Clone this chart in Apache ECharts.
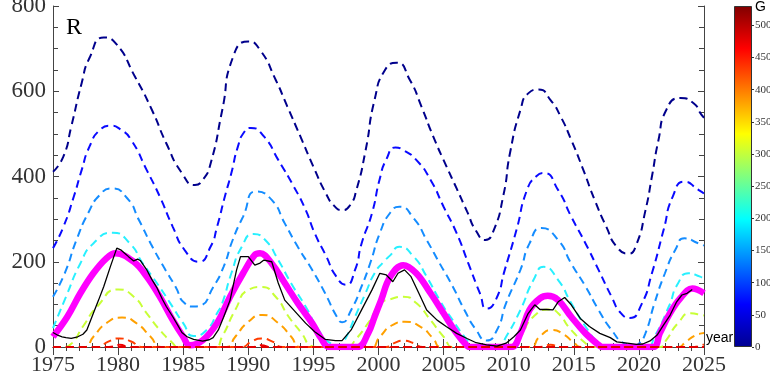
<!DOCTYPE html>
<html>
<head>
<meta charset="utf-8">
<script src="https://cdn.jsdelivr.net/npm/echarts@6/dist/echarts.min.js"></script>
<style>
  html, body { margin: 0; padding: 0; background: #fff; }
  #chart { width: 770px; height: 385px; }
</style>
</head>
<body>
<div id="chart"></div>
<script>
// 年份刻度
const yearTicks = [1975, 1980, 1985, 1990, 1995, 2000, 2005, 2010, 2015, 2020, 2025]
const rTicks = [0, 200, 400, 600, 800]
const gTicks = [0, 50, 100, 150, 200, 250, 300, 350, 400, 450, 500]
const gMax = 530

// 虚线族 (颜色对应 G)
const curveG000 = [[1975, 411], [1975.8, 447], [1976.4, 517], [1977.2, 619], [1977.8, 678], [1978.9, 726], [1979.8, 713], [1981.3, 634], [1982.6, 556], [1983.7, 478], [1984.9, 408], [1985.9, 380], [1986.5, 392], [1987.1, 430], [1988.0, 556], [1988.8, 678], [1990.0, 717], [1990.9, 697], [1992.1, 627], [1993.0, 564], [1994.0, 494], [1995.0, 423], [1996.0, 358], [1996.6, 331], [1997.2, 321], [1997.8, 332], [1998.3, 368], [1999.0, 460], [1999.7, 580], [2000.5, 650], [2001.4, 667], [2002.4, 627], [2003.3, 564], [2004.2, 494], [2005.2, 425], [2006.0, 372], [2006.8, 318], [2007.5, 272], [2008.2, 251], [2008.8, 270], [2009.6, 357], [2010.1, 455], [2010.9, 556], [2011.5, 595], [2012.3, 604], [2013.2, 580], [2014.0, 540], [2014.8, 486], [2015.7, 418], [2016.6, 345], [2017.5, 282], [2018.3, 235], [2019.2, 219], [2019.8, 240], [2020.5, 320], [2021.0, 400], [2021.5, 485], [2022.1, 556], [2023.2, 584], [2024.2, 572], [2024.8, 545], [2025, 538]]
const curveG070 = [[1975, 232], [1975.8, 282], [1976.6, 353], [1977.2, 415], [1977.8, 470], [1978.6, 509], [1979.4, 519], [1980.2, 510], [1981.0, 486], [1982.2, 415], [1983.2, 353], [1984.2, 282], [1985.1, 228], [1986.2, 200], [1987.1, 235], [1987.6, 282], [1988.2, 353], [1988.7, 408], [1989.2, 470], [1989.7, 505], [1990.2, 514], [1991.2, 494], [1992.3, 439], [1993.5, 376], [1994.4, 322], [1995.1, 267], [1996.0, 212], [1996.7, 168], [1997.5, 146], [1998.2, 181], [1998.7, 243], [1999.5, 314], [2000.1, 395], [2000.6, 440], [2001.3, 468], [2001.9, 462], [2002.9, 439], [2004.0, 392], [2005.0, 329], [2006.0, 267], [2006.9, 196], [2007.8, 125], [2008.3, 90], [2009.0, 110], [2009.7, 181], [2010.6, 275], [2011.4, 368], [2012.1, 400], [2012.7, 408], [2013.8, 368], [2014.8, 306], [2015.9, 243], [2016.9, 181], [2017.9, 118], [2018.6, 80], [2019.3, 68], [2020.2, 100], [2021.0, 173], [2021.9, 275], [2022.6, 353], [2023.5, 388], [2024.6, 368], [2025, 360]]
const curveG140 = [[1975, 118], [1975.9, 173], [1976.8, 251], [1977.7, 314], [1978.6, 357], [1979.5, 372], [1980.7, 349], [1981.6, 298], [1982.5, 243], [1983.5, 188], [1984.4, 142], [1985.1, 103], [1985.8, 95], [1986.3, 97], [1987.3, 140], [1988.1, 188], [1988.8, 251], [1989.6, 306], [1990.6, 365], [1991.8, 345], [1992.8, 290], [1993.8, 235], [1994.9, 181], [1995.9, 126], [1996.8, 71], [1997.2, 58], [1997.9, 87], [1998.7, 142], [1999.4, 200], [2000.1, 267], [2000.9, 315], [2001.6, 329], [2002.7, 302], [2003.7, 251], [2004.7, 196], [2005.7, 142], [2006.6, 87], [2007.5, 40], [2008.3, 15], [2009.1, 40], [2009.8, 103], [2010.9, 181], [2011.6, 243], [2012.5, 279], [2013.8, 251], [2014.8, 196], [2015.9, 142], [2016.9, 87], [2017.9, 40], [2018.9, 8], [2019.6, 2], [2020.0, 8], [2020.5, 32], [2021.2, 103], [2022.0, 173], [2022.8, 228], [2023.5, 255], [2024.6, 243], [2025, 238]]
const curveG205 = [[1975, 44], [1976.0, 118], [1977.1, 196], [1978.1, 243], [1979.6, 268], [1980.9, 243], [1981.9, 196], [1983.0, 149], [1984.0, 103], [1985.0, 56], [1985.8, 26], [1986.8, 40], [1987.6, 79], [1988.0, 103], [1988.7, 173], [1989.5, 235], [1990.4, 265], [1991.3, 251], [1992.3, 204], [1993.3, 149], [1994.4, 95], [1995.4, 40], [1996.3, 9], [1997.0, 3], [1997.4, 16], [1998.2, 71], [1999.0, 126], [1999.7, 173], [2000.4, 200], [2000.9, 215], [2001.6, 235], [2002.7, 212], [2003.7, 165], [2004.7, 110], [2005.7, 63], [2006.8, 16], [2007.3, 0], [2009.2, 0], [2009.8, 24], [2010.9, 87], [2011.9, 157], [2012.7, 188], [2013.8, 157], [2014.8, 103], [2015.9, 48], [2016.9, 9], [2017.4, 0], [2020.6, 0], [2021.2, 24], [2022.3, 95], [2023.0, 149], [2023.8, 173], [2024.7, 165], [2025, 160]]
const curveG300 = [[1975, 0], [1975.8, 0], [1976.3, 5], [1977.3, 48], [1978.4, 95], [1980.0, 135], [1981.2, 118], [1982.2, 79], [1983.2, 40], [1984.2, 9], [1984.6, 0], [1987.4, 0], [1988.0, 25], [1989.0, 87], [1990.0, 134], [1991.0, 141], [1992.1, 118], [1993.1, 71], [1994.1, 32], [1994.8, 3], [1995.2, 0], [1997.6, 0], [1998.2, 16], [1999.2, 56], [2000.2, 103], [2000.9, 112], [2001.9, 118], [2002.9, 103], [2004.0, 63], [2005.0, 24], [2005.8, 0], [2010.2, 0], [2010.9, 24], [2011.9, 71], [2013.2, 88], [2013.8, 79], [2014.8, 40], [2015.9, 9], [2016.3, 0], [2021.6, 0], [2022.1, 16], [2023.0, 56], [2024.0, 79], [2024.8, 75], [2025, 74]]
const curveG380 = [[1975, 0], [1977.4, 0], [1978.1, 24], [1979.1, 56], [1980.3, 69], [1981.4, 56], [1982.5, 24], [1983.3, 0], [1988.3, 0], [1989.0, 24], [1990.0, 59], [1991.1, 75], [1992.3, 56], [1993.3, 24], [1994.0, 0], [1999.4, 0], [2000.1, 24], [2001.1, 52], [2002.0, 59], [2003.2, 48], [2004.2, 20], [2004.8, 0], [2011.6, 0], [2012.4, 25], [2013.3, 40], [2014.2, 30], [2015.0, 10], [2015.6, 0], [2023.0, 0], [2023.6, 12], [2024.3, 27], [2024.8, 32], [2025, 33]]
const curveG440 = [[1975, 0], [1978.5, 0], [1979.2, 12], [1980.1, 20], [1981.0, 13], [1981.8, 0], [1989.5, 0], [1990.2, 12], [1991.0, 20], [1991.9, 12], [1992.6, 0], [2000.6, 0], [2001.2, 9], [2001.9, 15], [2002.7, 9], [2003.4, 0], [2012.4, 0], [2013.2, 5], [2014.0, 0], [2024.0, 0], [2025, 6]]
const curveG480 = [[1975, 0], [1979.3, 0], [1980.1, 5], [1980.9, 0], [1990.3, 0], [1991.0, 4], [1991.7, 0], [2025, 0]]
const curveG520 = [[1975, 0], [2025, 0]]

// 品红: 拟合周期
const fitR = [[1975, 24], [1976.1, 71], [1977.1, 126], [1978.1, 173], [1979.1, 208], [1979.8, 220], [1981.2, 200], [1982.2, 165], [1983.2, 118], [1984.2, 63], [1985.0, 24], [1985.5, 4], [1986.5, 16], [1987.6, 56], [1988.6, 118], [1989.6, 173], [1990.5, 216], [1990.9, 220], [1991.8, 196], [1992.8, 150], [1993.8, 103], [1994.9, 56], [1995.6, 20], [1996.2, 0], [1998.4, 0], [1999.2, 32], [1999.7, 71], [2000.2, 110], [2000.9, 165], [2001.9, 192], [2002.9, 173], [2004.0, 126], [2005.0, 79], [2006.0, 32], [2006.8, 3], [2007.0, 0], [2010.2, 0], [2010.9, 32], [2011.6, 87], [2012.4, 114], [2013.0, 120], [2013.8, 110], [2014.8, 71], [2015.9, 32], [2016.9, 5], [2017.2, 0], [2021.1, 0], [2021.6, 32], [2022.4, 80], [2023.2, 115], [2024.1, 137], [2025, 126]]

// 黑线: 观测太阳黑子数
const obsR = [[1975.0, 34], [1975.4, 27], [1975.7, 24], [1976.0, 22], [1976.4, 20], [1976.9, 24], [1977.3, 30], [1977.6, 40], [1978.1, 79], [1978.5, 110], [1978.9, 142], [1979.4, 188], [1979.9, 232], [1980.2, 228], [1980.5, 220], [1980.8, 212], [1981.2, 202], [1981.5, 206], [1981.7, 203], [1982.2, 181], [1982.6, 158], [1983.0, 138], [1983.4, 112], [1983.7, 95], [1984.2, 71], [1984.6, 50], [1984.9, 34], [1985.3, 24], [1985.8, 18], [1986.5, 14], [1987.0, 17], [1987.3, 22], [1987.7, 40], [1988.1, 70], [1988.6, 110], [1989.1, 181], [1989.4, 212], [1990.0, 212], [1990.5, 192], [1990.9, 197], [1991.2, 204], [1991.8, 200], [1992.3, 150], [1992.8, 110], [1993.6, 83], [1994.4, 56], [1995.1, 36], [1995.9, 18], [1996.7, 15], [1997.2, 15], [1997.9, 40], [1998.7, 87], [1999.5, 134], [2000.1, 173], [2000.6, 169], [2001.1, 153], [2001.5, 173], [2002.0, 181], [2002.5, 165], [2003.1, 126], [2003.7, 87], [2004.5, 63], [2005.2, 48], [2006.0, 32], [2006.8, 20], [2007.5, 10], [2008.3, 5], [2009.1, 2], [2009.8, 9], [2010.4, 24], [2010.9, 40], [2011.5, 79], [2012.0, 99], [2012.4, 88], [2012.9, 88], [2013.4, 87], [2013.8, 106], [2014.3, 116], [2014.8, 99], [2015.5, 67], [2016.2, 48], [2017.0, 32], [2017.8, 22], [2018.3, 12], [2019.1, 9], [2019.8, 6], [2020.3, 7], [2020.9, 15], [2021.4, 28], [2021.9, 52], [2022.4, 75], [2022.9, 106], [2023.3, 122], [2023.7, 126], [2024.1, 135]]

const dashedTop = [
  { data: curveG000, color: '#00008c' },
  { data: curveG070, color: '#0a0aff' },
  { data: curveG140, color: '#148cff' },
  { data: curveG205, color: '#28f0ff' },
  { data: curveG300, color: '#c8ff37' },
  { data: curveG380, color: '#ffa000' },
  { data: curveG440, color: '#ff3c00' }
]
const dashedBottom = [
  { data: curveG480, color: '#f00000' },
  { data: curveG520, color: '#e00000' }
]

const jetStops = [
  { offset: 0, color: '#000090' },
  { offset: 0.125, color: '#0000ff' },
  { offset: 0.375, color: '#00ffff' },
  { offset: 0.625, color: '#ffff00' },
  { offset: 0.875, color: '#ff0000' },
  { offset: 1, color: '#800000' }
]

const serif = 'Liberation Serif'
const axisColor = '#444'

function dashedSeries (item) {
  return {
    type: 'line',
    data: item.data,
    smooth: 0.6,
    symbol: 'none',
    lineStyle: { color: item.color, width: 2, type: [8, 5] },
    silent: true
  }
}

let series = []
dashedTop.map(i => series.push(dashedSeries(i)))
series.push({
  type: 'line',
  data: fitR,
  smooth: 0.4,
  symbol: 'none',
  lineStyle: { color: '#ff00ff', width: 6.5 }
})
dashedBottom.map(i => series.push(dashedSeries(i)))
series.push({
  type: 'line',
  data: obsR,
  symbol: 'none',
  lineStyle: { color: '#000', width: 1.3 }
})
// 色标
series.push({
  type: 'bar',
  xAxisIndex: 2,
  yAxisIndex: 2,
  data: [gMax],
  barWidth: '100%',
  itemStyle: {
    color: new echarts.graphic.LinearGradient(0, 1, 0, 0, jetStops),
    borderColor: '#333',
    borderWidth: 1
  },
  silent: true
})

const xTick = { show: true, inside: true, length: 8, lineStyle: { color: axisColor } }
const xMinor = { show: true, splitNumber: 5, length: 4, lineStyle: { color: axisColor } }
const yTick = { show: true, inside: true, length: 6, lineStyle: { color: axisColor } }
const yMinor = { show: true, splitNumber: 4, length: 5, lineStyle: { color: axisColor } }

const option = {
  animation: false,
  backgroundColor: '#fff',
  grid: [
    { left: 53, right: 66, top: 6, bottom: 38, outerBoundsMode: 'none', containLabel: false },
    { left: 734, width: 18, top: 6, bottom: 38, outerBoundsMode: 'none', containLabel: false }
  ],
  title: {
    text: 'R',
    left: 61,
    top: 11,
    textStyle: { fontFamily: serif, fontSize: 24, fontWeight: 'normal', color: '#000' }
  },
  xAxis: [
    {
      type: 'value',
      min: yearTicks[0],
      max: yearTicks[yearTicks.length - 1],
      interval: 5,
      axisLine: { lineStyle: { color: axisColor } },
      axisTick: xTick,
      minorTick: xMinor,
      splitLine: { show: false },
      axisLabel: { fontFamily: serif, fontSize: 22, color: '#333', margin: 7, formatter: v => String(v) }
    },
    {
      type: 'value',
      position: 'top',
      min: yearTicks[0],
      max: yearTicks[yearTicks.length - 1],
      interval: 5,
      axisLine: { lineStyle: { color: axisColor } },
      axisTick: xTick,
      minorTick: xMinor,
      splitLine: { show: false },
      axisLabel: { show: false }
    },
    {
      type: 'category',
      gridIndex: 1,
      data: ['G'],
      show: false
    }
  ],
  yAxis: [
    {
      type: 'value',
      min: rTicks[0],
      max: rTicks[rTicks.length - 1],
      interval: 200,
      axisLine: { show: true, lineStyle: { color: axisColor } },
      axisTick: yTick,
      minorTick: yMinor,
      splitLine: { show: false },
      axisLabel: { fontFamily: serif, fontSize: 23, color: '#333', margin: 7 }
    },
    {
      type: 'value',
      position: 'right',
      min: rTicks[0],
      max: rTicks[rTicks.length - 1],
      interval: 200,
      axisLine: { show: true, lineStyle: { color: axisColor } },
      axisTick: yTick,
      minorTick: yMinor,
      splitLine: { show: false },
      axisLabel: { show: false }
    },
    {
      type: 'value',
      gridIndex: 1,
      position: 'right',
      min: gTicks[0],
      max: gMax,
      interval: 50,
      axisLine: { show: false },
      axisTick: { show: true, length: 2, lineStyle: { color: '#333' } },
      splitLine: { show: false },
      axisLabel: { fontFamily: serif, fontSize: 11, color: '#333', margin: 3, showMaxLabel: false }
    }
  ],
  graphic: [
    {
      type: 'text',
      left: 706,
      top: 331,
      style: { text: 'year', fontFamily: 'Liberation Sans', fontSize: 14, fill: '#000' }
    },
    {
      type: 'text',
      left: 755,
      top: 0,
      style: { text: 'G', fontFamily: 'Liberation Sans', fontSize: 14, fill: '#000' }
    }
  ],
  series
}

const myChart = echarts.init(document.getElementById('chart'))
myChart.setOption(option)
</script>
</body>
</html>
